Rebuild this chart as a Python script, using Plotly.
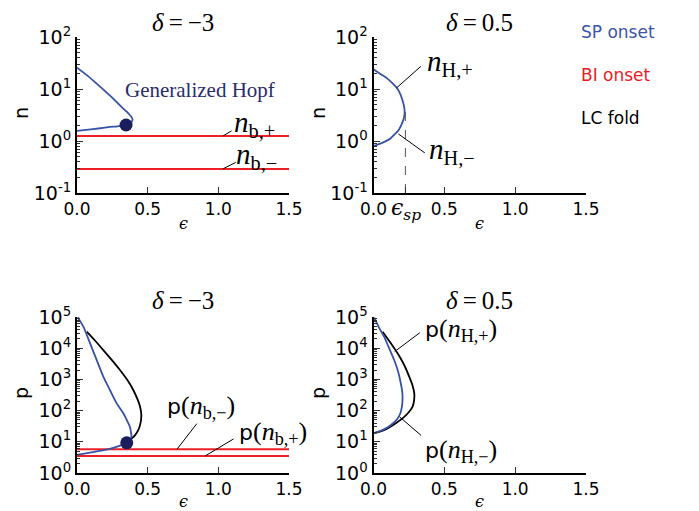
import numpy as np
import plotly.graph_objects as go

# ---------------- data ----------------
# delta = -3, SP onset (Hopf) curve in (eps, n)
tl_sp_eps = [0.0, 0.08, 0.163, 0.23, 0.281, 0.32, 0.35, 0.372, 0.387, 0.393, 0.388, 0.372,
             0.347, 0.30, 0.22, 0.15, 0.08, 0.0]
tl_sp_n   = [25.7, 17.5, 11.1, 7.6, 5.6, 4.4, 3.7, 3.2, 2.85, 2.6, 2.38, 2.18,
             2.03, 1.94, 1.84, 1.74, 1.65, 1.56]
# delta = 0.5, SP onset curve in (eps, n)
tr_sp_eps = [0.0, 0.048, 0.096, 0.135, 0.167, 0.19, 0.205, 0.216, 0.22, 0.216, 0.205, 0.178,
             0.15, 0.12, 0.065, 0.0]
tr_sp_n   = [24.0, 19.5, 16.0, 12.8, 10.3, 7.9, 6.0, 4.6, 3.65, 2.9, 2.3, 1.63,
             1.35, 1.12, 0.93, 0.8]
# generalized Hopf points
gh_eps_n, gh_n = 0.347, 2.03
gh_eps_p, gh_p = 0.352, 9.3
# BI onset levels
n_b_plus, n_b_minus = 1.25, 0.29
p_nb_minus, p_nb_plus = 5.8, 3.5
# epsilon_sp
eps_sp, n_sp = 0.225, 3.65
# delta = -3 in (eps, p)
bl_sp_eps = [0.005, 0.045, 0.092, 0.139, 0.186, 0.233, 0.281, 0.328, 0.352, 0.375, 0.383, 0.385,
             0.375, 0.352, 0.30, 0.257, 0.18, 0.092, 0.0]
bl_sp_p   = [98000, 49000, 14500, 4200, 1230, 457, 170, 82, 50, 30, 18.6, 14,
             11, 9.3, 7.4, 6.4, 5.3, 4.5, 3.8]
bl_lc_eps = [0.069, 0.13, 0.186, 0.25, 0.304, 0.36, 0.398, 0.43, 0.446, 0.455, 0.453, 0.445,
             0.434, 0.41, 0.387, 0.37]
bl_lc_p   = [33900, 17000, 8700, 4000, 2000, 900, 457, 220, 135, 75, 50, 33,
             24, 16, 12.9, 11]
# delta = 0.5 in (eps, p)
br_sp_eps = [0.005, 0.04, 0.075, 0.11, 0.146, 0.175, 0.193, 0.203, 0.205, 0.2, 0.189, 0.165,
             0.123, 0.08, 0.04, 0.0]
br_sp_p   = [95000, 45000, 23400, 10000, 4170, 1700, 741, 400, 219, 130, 81, 52,
             34.7, 26, 21.5, 18.6]
br_lc_eps = [0.064, 0.12, 0.170, 0.215, 0.252, 0.275, 0.288, 0.287, 0.276, 0.25, 0.217, 0.16,
             0.099, 0.05, 0.0]
br_lc_p   = [33900, 15000, 6900, 3000, 1230, 650, 355, 220, 135, 90, 63, 40,
             27, 21.5, 18.6]

x_ticks = [0.0, 0.5, 1.0, 1.5]
x_ticktext = ["0.0", "0.5", "1.0", "1.5"]
n_ticks = [0.1, 1, 10, 100]
n_ticktext = ["10<sup>-1</sup>", "10<sup>0</sup>", "10<sup>1</sup>", "10<sup>2</sup>"]
p_ticks = [1, 10, 100, 1000, 10000, 100000]
p_ticktext = ["10<sup>0</sup>", "10<sup>1</sup>", "10<sup>2</sup>", "10<sup>3</sup>",
              "10<sup>4</sup>", "10<sup>5</sup>"]

BLUE = "#3852a4"
RED = "#ee1f26"
NAVY = "#1b1e5c"
SERIF = "Liberation Serif"
SANS = "DejaVu Sans"

# the page body has an 8 px margin: figure is sized to fit, coords offset by 8 px
OFF = 8
W, H = 699 - OFF, 511 - OFF

def px(xp):
    return (xp - OFF) / W
def py(yp):
    return 1 - (yp - OFF) / H

fig = go.Figure()

def line(x, y, color, xa, ya, width=1.8, dash=None, shape="spline"):
    fig.add_trace(go.Scatter(x=x, y=y, mode="lines", xaxis=xa, yaxis=ya,
                             line=dict(color=color, width=width, dash=dash, shape=shape,
                                       smoothing=0.6),
                             showlegend=False, hoverinfo="skip"))

# top-left
line([0, 1.5], [n_b_plus, n_b_plus], RED, "x", "y", width=2, shape="linear")
line([0, 1.5], [n_b_minus, n_b_minus], RED, "x", "y", width=2, shape="linear")
line(tl_sp_eps, tl_sp_n, BLUE, "x", "y")
fig.add_trace(go.Scatter(x=[gh_eps_n], y=[gh_n], mode="markers", xaxis="x", yaxis="y",
                         marker=dict(color=NAVY, size=13), showlegend=False))
# top-right
line([eps_sp, eps_sp], [0.1, n_sp], "#555555", "x2", "y2", width=1, dash="dash", shape="linear")
line(tr_sp_eps, tr_sp_n, BLUE, "x2", "y2")
# bottom-left
line([0, 1.5], [p_nb_minus, p_nb_minus], RED, "x3", "y3", width=2, shape="linear")
line([0, 1.5], [p_nb_plus, p_nb_plus], RED, "x3", "y3", width=2, shape="linear")
line(bl_lc_eps, bl_lc_p, "black", "x3", "y3")
line(bl_sp_eps, bl_sp_p, BLUE, "x3", "y3")
fig.add_trace(go.Scatter(x=[gh_eps_p], y=[gh_p], mode="markers", xaxis="x3", yaxis="y3",
                         marker=dict(color=NAVY, size=13), showlegend=False))
# bottom-right
line(br_lc_eps, br_lc_p, "black", "x4", "y4")
line(br_sp_eps, br_sp_p, BLUE, "x4", "y4")

top_dom = [py(193), py(37)]
bot_dom = [py(473), py(317)]
left_dom = [px(77), px(289)]
right_dom = [px(373.5), px(586)]

def xax(dom, anchor, tickvals=x_ticks, ticktext=x_ticktext):
    return dict(domain=dom, anchor=anchor, range=[0, 1.5], showgrid=False, zeroline=False,
                automargin=False,
                showline=True, linecolor="black", linewidth=2, ticks="inside", ticklen=6,
                tickwidth=1, tickcolor="#333", tickvals=tickvals, ticktext=ticktext,
                tickfont=dict(family=SANS, size=17, color="black"))

def yax(dom, anchor, rng, tv, tt):
    return dict(domain=dom, anchor=anchor, type="log", range=rng, showgrid=False,
                zeroline=False, showline=True, linecolor="black", linewidth=2,
                automargin=False, tickvals=tv, ticktext=tt,
                ticks="inside", ticklen=6, tickwidth=1, tickcolor="#333",
                tickfont=dict(family=SANS, size=19, color="black"),
                minor=dict(ticks="inside", ticklen=3, tickwidth=1, tickcolor="#333",
                           dtick="D1", showgrid=False))

fig.update_layout(
    width=W, height=H, margin=dict(l=0, r=0, t=0, b=0),
    paper_bgcolor="white", plot_bgcolor="white", showlegend=False,
    xaxis=xax(left_dom, "y"), yaxis=yax(top_dom, "x", [-1, 2], n_ticks, n_ticktext),
    xaxis2=xax(right_dom, "y2", tickvals=[0.0, eps_sp, 0.5, 1.0, 1.5],
               ticktext=["0.0", "", "0.5", "1.0", "1.5"]),
    yaxis2=yax(top_dom, "x2", [-1, 2], n_ticks, n_ticktext),
    xaxis3=xax(left_dom, "y3"), yaxis3=yax(bot_dom, "x3", [0, 5], p_ticks, p_ticktext),
    xaxis4=xax(right_dom, "y4"), yaxis4=yax(bot_dom, "x4", [0, 5], p_ticks, p_ticktext),
)

ann = []
def text(x, y, s, size=17, color="black", family=SERIF, xanchor="center", yanchor="middle",
         angle=0):
    ann.append(dict(x=x, y=y, xref="paper", yref="paper", text=s, showarrow=False,
                    font=dict(family=family, size=size, color=color), xanchor=xanchor,
                    yanchor=yanchor, textangle=angle))

# titles
TSZ = 25
text(px(183), py(22), "<i>δ</i>\u2009=\u2009−3", size=TSZ)
text(px(480), py(22), "<i>δ</i>\u2009=\u20090.5", size=TSZ)
text(px(183), py(300), "<i>δ</i>\u2009=\u2009−3", size=TSZ)
text(px(480), py(300), "<i>δ</i>\u2009=\u20090.5", size=TSZ)
# axis titles
text(px(21), py(113), "n", size=19, family=SANS, angle=-90)
text(px(318), py(113), "n", size=19, family=SANS, angle=-90)
text(px(21), py(393), "p", size=19, family=SANS, angle=-90)
text(px(318), py(393), "p", size=19, family=SANS, angle=-90)
for xc, yc in [(183, 224), (480, 224), (183, 501), (480, 501)]:
    text(px(xc), py(yc), "<i>ϵ</i>", size=16, family="DejaVu Serif")
# legend
text(px(579), py(32), "SP onset", size=17, color="#3b55a8", family=SANS, xanchor="left")
text(px(579), py(75), "BI onset", size=17, color="#ec1c24", family=SANS, xanchor="left")
text(px(579), py(118), "LC fold", size=17, color="black", family=SANS, xanchor="left")
# eps_sp tick label
text(px(406), py(209), "<i>ϵ<sub>sp</sub></i>", size=22, family="DejaVu Serif")

# in-axes labels (axis coordinates; log axes use log10 units)
def atext(xa, ya, x, ylog, s, size=29, color="black", xanchor="left", family=SERIF):
    ann.append(dict(x=x, y=ylog, xref=xa, yref=ya, text=s, showarrow=False,
                    font=dict(family=family, size=size, color=color), xanchor=xanchor,
                    yanchor="middle"))

def leader(xa, ya, hx, hylog, tx, tylog):
    ann.append(dict(x=hx, y=hylog, xref=xa, yref=ya, ax=tx, ay=tylog, axref=xa, ayref=ya,
                    text="", showarrow=True, arrowhead=0, arrowwidth=1, arrowcolor="black",
                    standoff=0, startstandoff=0))

P = '<span style="font-family:DejaVu Sans;font-size:22px">p</span>'
atext("x", "y", 0.87, 0.98, "Generalized Hopf", size=21, color="#2a2c6c", xanchor="center")
atext("x", "y", 1.10, 0.33, "<i>n</i><sub>b,+</sub>")
leader("x", "y", 1.033, np.log10(n_b_plus), 1.104, 0.212)
atext("x", "y", 1.11, -0.28, "<i>n</i><sub>b,−</sub>")
leader("x", "y", 1.031, np.log10(n_b_minus), 1.134, -0.398)

atext("x2", "y2", 0.36, 1.50, "<i>n</i><sub>H,+</sub>")
leader("x2", "y2", 0.162, 1.019, 0.345, 1.462)
atext("x2", "y2", 0.38, -0.20, "<i>n</i><sub>H,−</sub>")
leader("x2", "y2", 0.176, 0.135, 0.373, -0.25)

atext("x3", "y3", 0.62, 2.10, P + "(<i>n</i><sub>b,−</sub>)", size=26)
leader("x3", "y3", 0.708, np.log10(p_nb_minus), 0.856, 1.63)
atext("x3", "y3", 1.13, 1.29, P + "(<i>n</i><sub>b,+</sub>)", size=26)
leader("x3", "y3", 0.906, np.log10(p_nb_plus), 1.118, 1.12)

atext("x4", "y4", 0.35, 4.57, P + "(<i>n</i><sub>H,+</sub>)", size=26)
leader("x4", "y4", 0.149, 3.89, 0.337, 4.53)
atext("x4", "y4", 0.35, 0.72, P + "(<i>n</i><sub>H,−</sub>)", size=26)
leader("x4", "y4", 0.184, 1.80, 0.347, 1.16)

fig.update_layout(annotations=ann)
fig.write_html("out.html")
